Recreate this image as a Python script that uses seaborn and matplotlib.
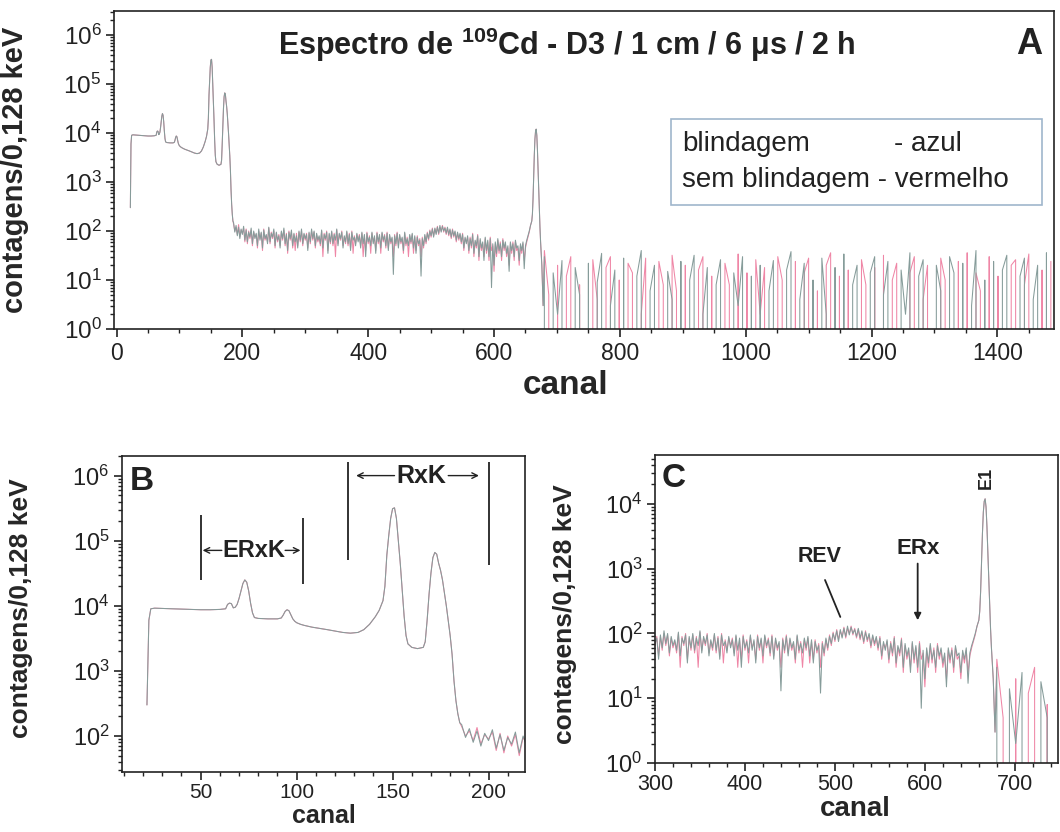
import numpy as np
import pandas as pd
import matplotlib
matplotlib.use("Agg")
import matplotlib.pyplot as plt
import seaborn as sns
from matplotlib.ticker import LogLocator, NullFormatter, MultipleLocator
from matplotlib.patches import Rectangle

# ---------------------------------------------------------------------------
# 109Cd spectrum (counts per 0.128 keV channel)
# ---------------------------------------------------------------------------

# Low-energy part (Ag K x-rays and escape peaks) - both runs coincide here
canal_suave = [22, 23, 24, 26, 30, 35, 40, 45, 50, 55, 60, 63, 64, 65, 66, 67,
               68, 69, 70, 71, 72, 73, 74, 75, 76, 77, 78, 80, 85, 90, 92, 93,
               94, 95, 96, 97, 98, 99, 100, 102, 104, 108, 112, 116, 120, 124,
               128, 132, 135, 138, 141, 143, 145, 146, 147, 148, 149, 150, 151,
               152, 153, 154, 155, 156, 157, 158, 160, 163, 166, 167, 168, 169,
               170, 171, 172, 173, 174, 175, 176, 177, 178, 179, 180, 181, 182,
               183, 184, 185]
contagens_suave = [300, 6000, 9000, 9200, 9100, 9000, 8900, 8800, 8700, 8700,
                   8800, 9000, 10500, 11000, 10800, 9300, 9500, 10500, 13000,
                   17000, 22000, 25000, 23000, 17000, 11000, 7800, 6600, 6400,
                   6300, 6300, 6500, 7200, 8200, 8700, 8400, 7300, 6300, 5800,
                   5500, 5200, 5000, 4700, 4500, 4300, 4100, 3900, 3800, 3900,
                   4300, 5200, 6800, 8500, 12000, 20000, 60000, 120000, 220000,
                   310000, 320000, 220000, 100000, 45000, 18000, 7000, 3500,
                   2600, 2300, 2200, 2300, 2800, 6000, 15000, 32000, 55000,
                   66000, 62000, 45000, 35000, 25000, 16000, 10000, 6000, 3500,
                   1800, 700, 350, 220, 160]

# Continuum from channel 186 to 656, in steps of 2 channels
canal_ruido_inicio = 186
passo_ruido = 2
contagens_ruido_azul = [
    150, 95, 130, 80, 120, 70, 110, 85, 125, 65,
    105, 60, 95, 75, 115, 55, 100, 70, 90, 50,
    110, 65, 95, 45, 105, 70, 85, 55, 120, 60,
    90, 75, 110, 50, 95, 65, 80, 45, 100, 70,
    115, 55, 85, 40, 95, 70, 105, 50, 90, 60,
    80, 45, 100, 65, 110, 55, 90, 70, 85, 40,
    95, 60, 110, 70, 100, 50, 90, 65, 80, 55,
    105, 45, 85, 70, 95, 35, 90, 60, 100, 55,
    85, 65, 110, 50, 90, 70, 95, 45, 80, 60,
    100, 55, 85, 40, 95, 65, 75, 50, 90, 60,
    80, 45, 95, 55, 85, 30, 90, 60, 75, 50,
    95, 55, 80, 35, 90, 60, 85, 45, 95, 65,
    80, 50, 90, 40, 85, 60, 75, 13, 80, 55,
    90, 45, 85, 60, 75, 40, 95, 55, 70, 50,
    85, 60, 90, 45, 80, 35, 75, 55, 65, 12,
    70, 50, 85, 60, 90, 70, 100, 80, 110, 75,
    115, 85, 120, 90, 130, 95, 125, 100, 115, 90,
    120, 85, 110, 75, 105, 80, 100, 65, 95, 70,
    90, 60, 85, 45, 75, 55, 80, 40, 70, 50,
    85, 35, 65, 50, 80, 30, 70, 45, 60, 25,
    75, 40, 65, 30, 70, 7, 55, 20, 60, 35,
    70, 40, 55, 30, 65, 45, 60, 35, 50, 15,
    60, 40, 55, 30, 65, 45, 50, 25, 55, 40,
    60, 17, 50, 65, 80, 100]
contagens_ruido_vermelho = [
    140, 100, 120, 85, 135, 75, 105, 90, 115, 60,
    110, 55, 100, 70, 105, 50, 95, 75, 85, 45,
    100, 70, 90, 40, 110, 65, 80, 60, 115, 55,
    95, 70, 100, 45, 90, 60, 85, 50, 95, 65,
    105, 50, 90, 35, 100, 65, 95, 45, 85, 40,
    90, 50, 95, 60, 100, 50, 85, 65, 90, 45,
    90, 55, 100, 65, 95, 45, 85, 60, 75, 50,
    100, 30, 90, 65, 100, 40, 85, 55, 95, 50,
    90, 30, 105, 55, 85, 65, 100, 50, 75, 55,
    95, 50, 90, 45, 100, 35, 80, 55, 85, 65,
    85, 50, 90, 30, 80, 40, 95, 55, 80, 35,
    90, 60, 75, 40, 95, 55, 80, 35, 90, 60,
    85, 45, 95, 45, 80, 55, 70, 30, 85, 50,
    95, 50, 80, 55, 70, 35, 90, 50, 75, 30,
    80, 55, 85, 35, 75, 40, 80, 50, 70, 30,
    75, 45, 80, 55, 95, 65, 105, 75, 115, 80,
    110, 90, 125, 85, 120, 100, 130, 95, 120, 85,
    115, 80, 105, 70, 110, 75, 95, 60, 90, 65,
    85, 55, 90, 40, 70, 60, 75, 35, 75, 45,
    90, 30, 60, 45, 85, 25, 65, 40, 55, 30,
    70, 35, 60, 25, 75, 40, 50, 15, 55, 30,
    65, 35, 60, 25, 70, 40, 55, 30, 45, 20,
    55, 35, 60, 25, 60, 40, 45, 20, 50, 35,
    55, 25, 45, 60, 75, 95]

# 88 keV gamma line (E1)
canal_e1 = [658, 660, 661, 662, 663, 664, 665, 666, 667, 668, 669, 670, 671,
            672, 673, 674, 675, 676, 677, 678]
contagens_e1 = [130, 160, 220, 450, 1300, 3500, 7500, 11000, 12000, 9000,
                4500, 1800, 700, 300, 120, 60, 35, 20, 8, 3]

# Above the gamma line: sparse counts, in steps of 7 channels from 680
canal_alto_inicio = 680
passo_alto = 7
contagens_alto_azul = [
    30, 0, 14, 2, 25, 0, 0, 18, 5, 0,
    22, 0, 9, 35, 0, 3, 16, 0, 28, 0,
    0, 12, 40, 0, 6, 20, 0, 0, 15, 4,
    0, 24, 0, 10, 32, 0, 2, 18, 0, 8,
    26, 0, 0, 14, 3, 30, 0, 12, 0, 20,
    0, 6, 25, 0, 0, 16, 38, 0, 4, 22,
    0, 10, 0, 28, 2, 0, 18, 0, 34, 0,
    8, 20, 0, 0, 14, 30, 0, 5, 24, 0,
    0, 16, 2, 36, 0, 12, 26, 0, 0, 20,
    6, 0, 30, 14, 0, 22, 0, 3, 40, 0,
    10, 0, 24, 0, 16, 32, 0, 0, 12, 28,
    0, 4, 20, 0, 36, 0]
contagens_alto_vermelho = [
    40, 5, 0, 20, 0, 12, 30, 0, 8, 0,
    0, 26, 4, 0, 18, 30, 0, 10, 0, 22,
    14, 0, 2, 28, 0, 0, 24, 8, 0, 32,
    6, 0, 20, 0, 0, 16, 30, 0, 12, 0,
    0, 22, 8, 0, 34, 0, 14, 0, 26, 2,
    18, 0, 0, 30, 10, 0, 0, 24, 0, 14,
    28, 0, 6, 0, 20, 36, 0, 12, 0, 16,
    0, 0, 26, 8, 0, 18, 0, 32, 0, 10,
    22, 0, 0, 14, 30, 0, 4, 20, 0, 0,
    28, 10, 0, 0, 24, 0, 36, 0, 14, 6,
    0, 30, 0, 12, 0, 0, 20, 26, 0, 8,
    34, 0, 0, 16, 0, 24]

series = ["sem blindagem", "blindagem"]
cores = {"sem blindagem": "#ef86a6", "blindagem": "#869c9a"}


def montar(ruido, alto, nome):
    canal = np.concatenate([
        canal_suave,
        canal_ruido_inicio + passo_ruido * np.arange(len(ruido)),
        canal_e1,
        canal_alto_inicio + passo_alto * np.arange(len(alto)),
    ])
    cont = np.concatenate([contagens_suave, ruido, contagens_e1, alto])
    return pd.DataFrame({"canal": canal, "contagens": cont.astype(float),
                         "serie": nome})


df = pd.concat([
    montar(contagens_ruido_vermelho, contagens_alto_vermelho, "sem blindagem"),
    montar(contagens_ruido_azul, contagens_alto_azul, "blindagem"),
], ignore_index=True)

# ---------------------------------------------------------------------------
sns.set_style("ticks")
plt.rcParams["font.family"] = ["Liberation Sans", "DejaVu Sans"]
plt.rcParams["mathtext.fontset"] = "custom"
plt.rcParams["mathtext.rm"] = "Liberation Sans"
plt.rcParams["mathtext.it"] = "Liberation Sans:italic"
plt.rcParams["mathtext.bf"] = "Liberation Sans:bold"
plt.rcParams["mathtext.sf"] = "Liberation Sans"
plt.rcParams["axes.linewidth"] = 1.2

W, H = 1060, 832
fig = plt.figure(figsize=(W / 100, H / 100), dpi=100)
fig.patch.set_facecolor("white")


def caixa(l, r, t, b):
    return [l / W, 1 - b / H, (r - l) / W, (b - t) / H]


axA = fig.add_axes(caixa(114, 1054, 11, 329))
axB = fig.add_axes(caixa(122, 525, 456, 772))
axC = fig.add_axes(caixa(655, 1058, 455, 763))


def desenhar(ax, xlim, ylim, xmaj, xmin, xfs, yfs, xpad=3):
    sns.lineplot(data=df, x="canal", y="contagens", hue="serie",
                 hue_order=series, palette=cores, estimator=None, sort=False,
                 legend=False, linewidth=0.75, ax=ax)
    ax.set_yscale("log")
    ax.set_xlim(*xlim)
    ax.set_ylim(*ylim)
    ax.xaxis.set_major_locator(MultipleLocator(xmaj))
    ax.xaxis.set_minor_locator(MultipleLocator(xmin))
    ax.yaxis.set_major_locator(LogLocator(base=10, numticks=20))
    ax.yaxis.set_minor_locator(LogLocator(base=10, subs=np.arange(2, 10),
                                          numticks=100))
    ax.yaxis.set_minor_formatter(NullFormatter())
    ax.tick_params(which="major", direction="out", length=6, width=1.2,
                   pad=3, colors="#222222")
    ax.tick_params(axis="x", which="major", labelsize=xfs, pad=xpad)
    ax.tick_params(axis="y", which="major", labelsize=yfs)
    ax.tick_params(which="minor", direction="out", length=3, width=1.0,
                   colors="#222222")
    for s in ax.spines.values():
        s.set_visible(True)
        s.set_linewidth(1.2)
        s.set_color("#222222")


# --- Panel A: full spectrum -------------------------------------------------
desenhar(axA, (-4, 1490), (1, 3.1e6), 200, 50, 16.5, 17.5)
axA.set_xlabel("canal", fontsize=24, fontweight="bold")
axA.set_ylabel("contagens/0,128 keV", fontsize=21, fontweight="bold")
axA.xaxis.set_label_coords(0.48, -0.13)
axA.yaxis.set_label_coords(-0.09, 0.5)
axA.text(0.482, 0.894, r"Espectro de $^{\mathbf{109}}$Cd - D3 / 1 cm / 6 μs / 2 h",
         transform=axA.transAxes, ha="center", va="center", fontsize=22,
         fontweight="bold", color="#222222")
axA.text(0.974, 0.894, "A", transform=axA.transAxes, ha="center", va="center",
         fontsize=26, fontweight="bold", color="#222222")
axA.add_patch(Rectangle((0.593, 0.391), 0.394, 0.268, transform=axA.transAxes,
                        fill=True, facecolor="white", edgecolor="#9fb6cc",
                        linewidth=1.2, zorder=5))
axA.text(0.604, 0.581, "blindagem", transform=axA.transAxes, ha="left",
         va="center", fontsize=20, color="#222222", zorder=6)
axA.text(0.830, 0.581, "- azul", transform=axA.transAxes, ha="left",
         va="center", fontsize=20, color="#222222", zorder=6)
axA.text(0.604, 0.467, "sem blindagem - vermelho", transform=axA.transAxes,
         ha="left", va="center", fontsize=20, color="#222222", zorder=6)

# --- Panel B: K x-ray region --------------------------------------------------
desenhar(axB, (9, 219), (28, 2e6), 50, 10, 15, 17, xpad=2)
axB.set_xlabel("canal", fontsize=18, fontweight="bold")
axB.set_ylabel("contagens/0,128 keV", fontsize=19, fontweight="bold")
axB.xaxis.set_label_coords(0.50, -0.1)
axB.yaxis.set_label_coords(-0.222, 0.52)
axB.text(0.05, 0.918, "B", transform=axB.transAxes, ha="center", va="center",
         fontsize=24, fontweight="bold", color="#222222")
kw_linha = dict(color="#222222", linewidth=1.3)
kw_seta = dict(arrowstyle="->", color="#222222", lw=1.0, shrinkA=0, shrinkB=0)
axB.vlines([50, 103.5], [2.5e4, 2.2e4], [2.5e5, 2.2e5], **kw_linha)
axB.text(77.5, 7.1e4, "ERxK", ha="center", va="center", fontsize=17,
         fontweight="bold", color="#222222")
axB.annotate("", xy=(51, 7.1e4), xytext=(61, 7.1e4), arrowprops=kw_seta)
axB.annotate("", xy=(102, 7.1e4), xytext=(94, 7.1e4), arrowprops=kw_seta)
axB.vlines([127, 200], [5e4, 4.3e4], [1.6e6, 1.6e6], **kw_linha)
axB.text(165, 1.0e6, "RxK", ha="center", va="center", fontsize=18,
         fontweight="bold", color="#222222")
axB.annotate("", xy=(131, 1.0e6), xytext=(151, 1.0e6), arrowprops=kw_seta)
axB.annotate("", xy=(195, 1.0e6), xytext=(179, 1.0e6), arrowprops=kw_seta)

# --- Panel C: continuum and 88 keV line -------------------------------------
desenhar(axC, (300, 748), (1, 5.7e4), 100, 20, 15.5, 17, xpad=2)
axC.set_xlabel("canal", fontsize=20, fontweight="bold")
axC.set_ylabel("contagens/0,128 keV", fontsize=19, fontweight="bold")
axC.xaxis.set_label_coords(0.496, -0.107)
axC.yaxis.set_label_coords(-0.194, 0.484)
axC.text(0.047, 0.925, "C", transform=axC.transAxes, ha="center", va="center",
         fontsize=24, fontweight="bold", color="#222222")
axC.text(483, 1.55e3, "REV", ha="center", va="center", fontsize=15.5,
         fontweight="bold", color="#222222")
axC.plot([489, 506], [670, 180], **kw_linha)
axC.text(592.5, 2.06e3, "ERx", ha="center", va="center", fontsize=16,
         fontweight="bold", color="#222222")
axC.annotate("", xy=(592, 160), xytext=(592, 1.2e3),
             arrowprops=dict(arrowstyle="-|>", color="#222222", lw=1.3,
                             mutation_scale=10, shrinkA=0, shrinkB=0))
axC.text(668.5, 2.5e4, "E1", ha="center", va="center", fontsize=13,
         fontweight="bold", rotation=90, color="#222222")

fig.savefig("out.png", dpi=100, facecolor="white")
